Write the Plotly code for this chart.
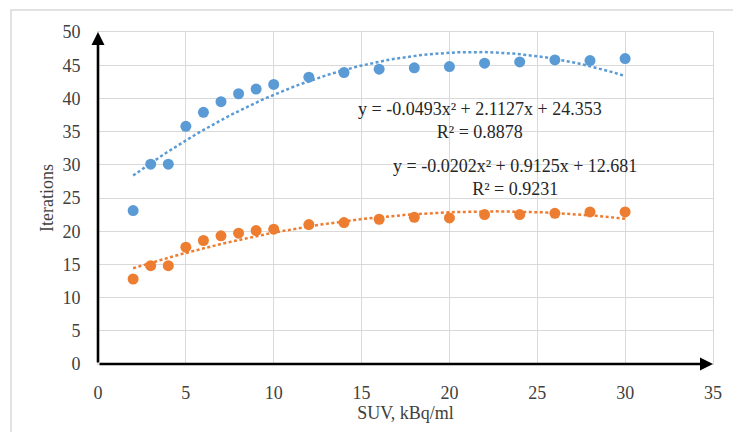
import numpy as np
import plotly.graph_objects as go

suv = [2, 3, 4, 5, 6, 7, 8, 9, 10, 12, 14, 16, 18, 20, 22, 24, 26, 28, 30]
iter_blue = [23.1, 30.1, 30.1, 35.8, 37.9, 39.5, 40.7, 41.4, 42.1, 43.2, 43.9, 44.4,
             44.6, 44.8, 45.3, 45.5, 45.8, 45.7, 46.0]
iter_orange = [12.8, 14.8, 14.8, 17.6, 18.6, 19.3, 19.7, 20.1, 20.3, 21.0, 21.3, 21.8,
               22.1, 22.0, 22.5, 22.5, 22.7, 22.9, 22.9]
# trendline coefficients shown on the chart (a2, a1, a0)
coef_blue = [-0.0493, 2.1127, 24.353]
coef_orange = [-0.0202, 0.9125, 12.681]
r2_blue = "0.8878"
r2_orange = "0.9231"
x_ticks = [0, 5, 10, 15, 20, 25, 30, 35]
y_ticks = [0, 5, 10, 15, 20, 25, 30, 35, 40, 45, 50]

BLUE = "#5B9BD5"
ORANGE = "#ED7D31"
FONT = "Liberation Serif"

xt = np.linspace(min(suv), max(suv), 120)
fig = go.Figure()
for coef, col in [(coef_blue, BLUE), (coef_orange, ORANGE)]:
    fig.add_trace(go.Scatter(x=xt, y=np.polyval(coef, xt), mode="lines",
                             line=dict(color=col, width=2.5, dash="3px,2.5px"),
                             hoverinfo="skip"))
for ys, col in [(iter_blue, BLUE), (iter_orange, ORANGE)]:
    fig.add_trace(go.Scatter(x=suv, y=ys, mode="markers",
                             marker=dict(color=col, size=11)))

def eq(c, r2):
    return (f"y = {c[0]}x² + {c[1]}x + {c[2]}<br>R² = {r2}")

fig.add_annotation(x=21.74, y=36.7, text=eq(coef_blue, r2_blue), showarrow=False,
                   font=dict(family=FONT, size=18, color="#262626"), align="center")
fig.add_annotation(x=23.73, y=28.1, text=eq(coef_orange, r2_orange), showarrow=False,
                   font=dict(family=FONT, size=18, color="#262626"), align="center")

# black axes with arrows
fig.add_annotation(x=0, y=50, ax=0, ay=0, axref="x", ayref="y", xref="x", yref="y",
                   showarrow=True, arrowhead=2, arrowwidth=2.6, arrowsize=1.0,
                   arrowcolor="black", text="")
fig.add_annotation(x=35, y=0, ax=0, ay=0, axref="x", ayref="y", xref="x", yref="y",
                   showarrow=True, arrowhead=2, arrowwidth=2.6, arrowsize=1.0,
                   arrowcolor="black", text="")

# outer chart frame
fig.add_shape(type="rect", xref="paper", yref="paper", x0=-0.1415, x1=1.04,
              y0=-0.22, y1=1.066, line=dict(color="#D9D9D9", width=1.5), layer="below")

fig.update_layout(
    width=733, height=432, showlegend=False,
    margin=dict(l=98, r=20, t=32, b=68, autoexpand=False),
    plot_bgcolor="white", paper_bgcolor="white",
    font=dict(family=FONT, size=18, color="#404040"),
)
fig.update_xaxes(range=[0, 35], tickvals=x_ticks, showgrid=True, gridcolor="#D9D9D9",
                 gridwidth=1, zeroline=False, showline=True, linecolor="#D9D9D9",
                 mirror=True, ticks="", ticklabelstandoff=12, automargin=False,
                 title=dict(text="SUV, kBq/ml", standoff=4, font=dict(size=18)))
fig.update_yaxes(range=[0, 50], tickvals=y_ticks, showgrid=True, gridcolor="#D9D9D9",
                 gridwidth=1, zeroline=False, showline=True, linecolor="#D9D9D9",
                 mirror=True, ticks="", ticklabelstandoff=13, automargin=False,
                 title=dict(text="Iterations", standoff=4, font=dict(size=18)))

fig.write_html("out.html", config={"displayModeBar": False},
               post_script="document.body.style.margin='0';document.body.style.overflow='hidden';")
